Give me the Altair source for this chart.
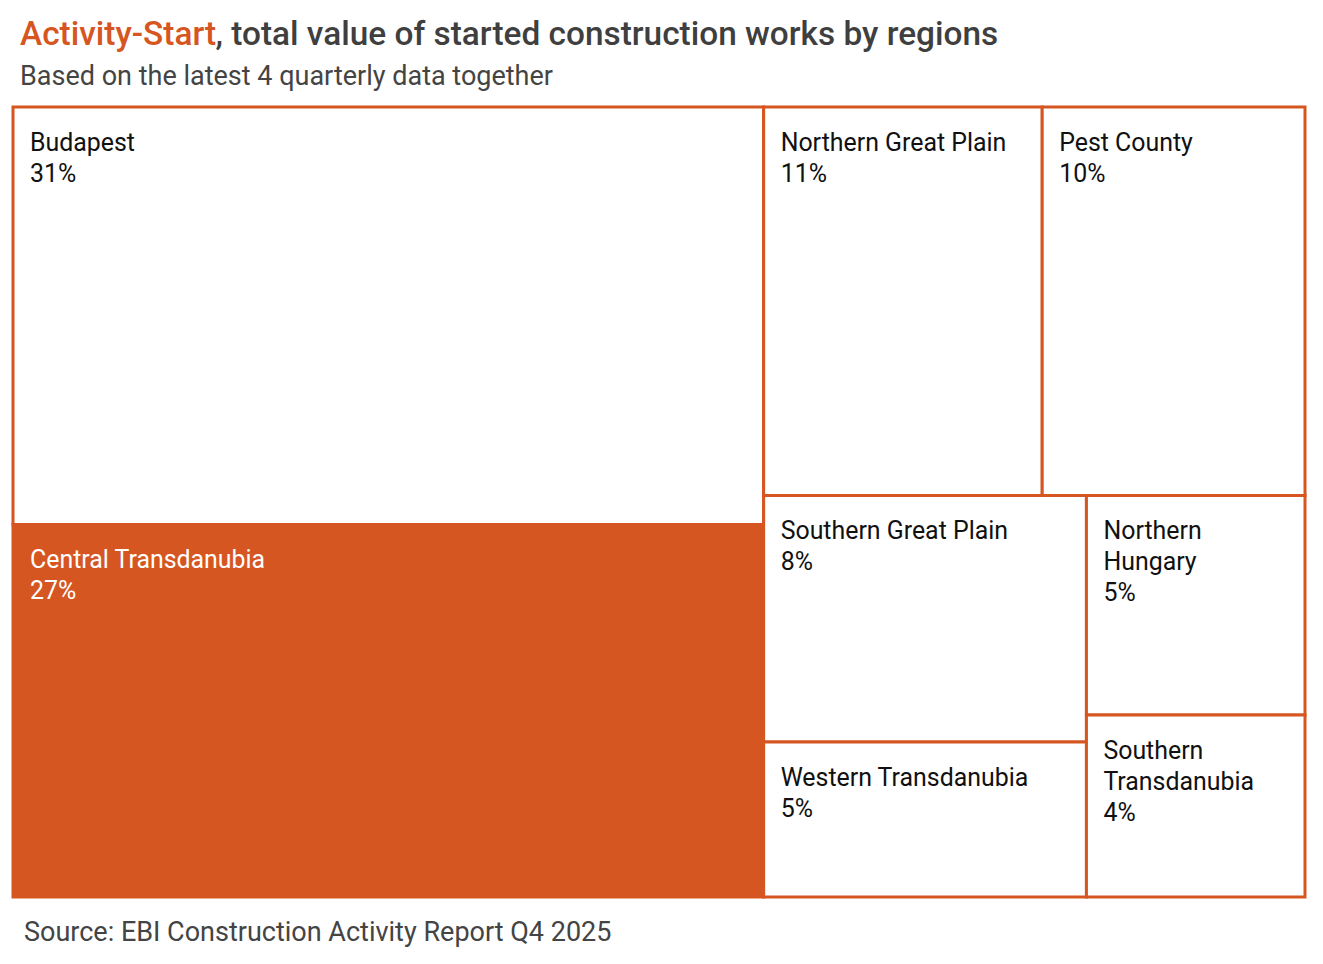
import math
import altair as alt
import pandas as pd

# ---- data ----
regions = ["Budapest", "Central Transdanubia", "Northern Great Plain", "Pest County",
           "Southern Great Plain", "Western Transdanubia", "Northern Hungary",
           "Southern Transdanubia"]
shares = [30.7, 27.4, 10.6, 10.0, 7.8, 4.9, 4.7, 3.9]
highlight = ["Central Transdanubia"]

title_hl = "Activity-Start"
title_rest = ", total value of started construction works by regions"
subtitle = "Based on the latest 4 quarterly data together"
source = "Source: EBI Construction Activity Report Q4 2025"

ORANGE = "#D65622"
W, H = 1292, 790
TITLE_SIZE = 33.4
LABEL_SIZE = 24.9


def squarify(values, x0, y0, x1, y1, ratio=(1 + math.sqrt(5)) / 2):
    """Port of d3-hierarchy squarifyRatio."""
    n = len(values)
    out = [None] * n
    value = float(sum(values))
    i0 = 0
    while i0 < n:
        dx, dy = x1 - x0, y1 - y0
        i1 = i0
        s = values[i1]
        i1 += 1
        mn = mx = s
        alpha = max(dy / dx, dx / dy) / (value * ratio)
        beta = s * s * alpha
        min_ratio = max(mx / beta, beta / mn)
        while i1 < n:
            nv = values[i1]
            s2 = s + nv
            mn2, mx2 = min(mn, nv), max(mx, nv)
            beta = s2 * s2 * alpha
            new_ratio = max(mx2 / beta, beta / mn2)
            if new_ratio > min_ratio:
                break
            s, mn, mx, min_ratio = s2, mn2, mx2, new_ratio
            i1 += 1
        row = list(range(i0, i1))
        if dx < dy:
            yb = y0 + dy * s / value
            xx = x0
            for k in row:
                w = dx * values[k] / s
                out[k] = (xx, y0, xx + w, yb)
                xx += w
            y0 = yb
        else:
            xr = x0 + dx * s / value
            yy = y0
            for k in row:
                h = dy * values[k] / s
                out[k] = (x0, yy, xr, yy + h)
                yy += h
            x0 = xr
        value -= s
        i0 = i1
    return out


def wrap(name, box_w, char_w=12.0, pad=34):
    if len(name) * char_w > box_w - pad:
        return "\n".join(name.split(" "))
    return name


rects = squarify(shares, 0, 0, W, H)
rows = []
for name, v, (a, b, c, d) in zip(regions, shares, rects):
    rows.append({
        "region": name,
        "share": v,
        "x0": a, "y0": b, "x1": c, "y1": d,
        "label": wrap(name, c - a) + "\n" + f"{round(v)}%",
        "hl": name in highlight,
    })
df = pd.DataFrame(rows)

xs = alt.Scale(domain=[0, W], nice=False, zero=False)
ys = alt.Scale(domain=[0, H], nice=False, zero=False, reverse=True)

base = alt.Chart(df)

boxes = base.mark_rect(stroke=ORANGE, strokeWidth=3).encode(
    x=alt.X("x0:Q", scale=xs, axis=None),
    x2="x1:Q",
    y=alt.Y("y0:Q", scale=ys, axis=None),
    y2="y1:Q",
    fill=alt.condition("datum.hl", alt.value(ORANGE), alt.value("white")),
    tooltip=["region", "share"],
)

labels = base.mark_text(
    align="left", baseline="top", dx=17, dy=24, fontSize=LABEL_SIZE,
    font="Roboto", lineBreak="\n", lineHeight=31,
).encode(
    x=alt.X("x0:Q", scale=xs),
    y=alt.Y("y0:Q", scale=ys),
    text="label:N",
    color=alt.condition("datum.hl", alt.value("white"), alt.value("#111111")),
)

hdf = pd.DataFrame({"t": [title_hl]})
title_or = alt.Chart(hdf).mark_text(
    align="left", baseline="middle", fontSize=TITLE_SIZE, fontWeight=500, font="Roboto",
    color=ORANGE,
).encode(x=alt.value(7), y=alt.value(-72), text="t:N")

tdf = pd.DataFrame({"t": [title_rest]})
title_dark = alt.Chart(tdf).mark_text(
    align="left", baseline="middle", fontSize=TITLE_SIZE, fontWeight=500, font="Roboto",
    color="#3f3f3f",
).encode(x=alt.value(7 + 195.5), y=alt.value(-72), text="t:N")

sdf = pd.DataFrame({"t": [subtitle]})
sub = alt.Chart(sdf).mark_text(
    align="left", baseline="middle", fontSize=27, font="Roboto", color="#444444",
).encode(x=alt.value(7), y=alt.value(-30), text="t:N")

srcdf = pd.DataFrame({"t": [source]})
src = alt.Chart(srcdf).mark_text(
    align="left", baseline="middle", fontSize=27, font="Roboto", color="#444444",
).encode(x=alt.value(11), y=alt.value(826), text="t:N")

chart = alt.layer(boxes, labels, title_or, title_dark, sub, src).properties(
    width=W, height=H,
    autosize=alt.AutoSizeParams(type="none"),
    padding={"left": 5, "top": 99, "right": 10, "bottom": 55},
).configure_view(stroke=None)

chart.save("out.html", embed_options={"renderer": "svg", "actions": False})
